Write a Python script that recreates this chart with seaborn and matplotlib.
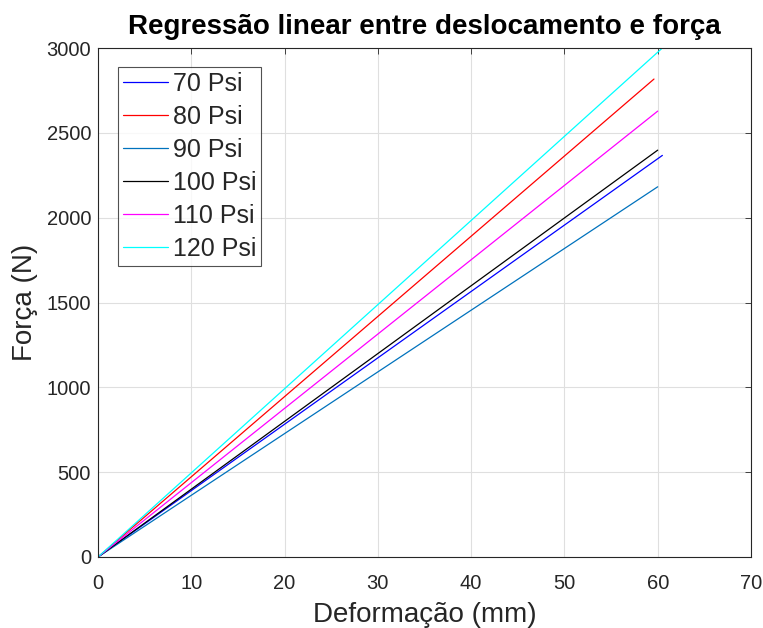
import matplotlib
matplotlib.use("Agg")
import matplotlib.pyplot as plt
import seaborn as sns
import pandas as pd

labels = ["70 Psi", "80 Psi", "90 Psi", "100 Psi", "110 Psi", "120 Psi"]
x_end = [60.5, 59.6, 60.0, 60.0, 60.0, 60.4]
y_end = [2367, 2817, 2182, 2398, 2628, 2995]
colors = ["#0000ff", "#ff0000", "#0072bd", "#000000", "#ff00ff", "#00ffff"]

rows = []
for lab, xe, ye in zip(labels, x_end, y_end):
    rows.append({"serie": lab, "x": 0.0, "y": 0.0})
    rows.append({"serie": lab, "x": xe, "y": ye})
df = pd.DataFrame(rows)

sns.set_style("white")
plt.rcParams["font.family"] = ["Liberation Sans", "DejaVu Sans"]

fig = plt.figure(figsize=(7.63, 6.28), dpi=100)
ax = fig.add_axes([98/763, 1 - 557/628, (751-98)/763, (557-48)/628])

sns.lineplot(data=df, x="x", y="y", hue="serie", palette=colors,
             hue_order=labels, ax=ax, linewidth=0.9, sort=False)

ax.set_xlim(0, 70)
ax.set_ylim(0, 3000)
ax.set_xticks(range(0, 71, 10))
ax.set_yticks(range(0, 3001, 500))
ax.grid(True, color="#dfdfdf", linewidth=0.8)
ax.set_axisbelow(True)
ax.tick_params(direction="in", length=4, labelsize=14.5, colors="#262626", top=True, right=True, width=0.6)
ax.tick_params(axis="x", pad=12)
ax.tick_params(axis="y", pad=5)
for s in ax.spines.values():
    s.set_color("#262626")
    s.set_linewidth(0.8)
ax.set_xlabel("Deformação (mm)", fontsize=20, color="#262626", labelpad=7)
ax.set_ylabel("Força (N)", fontsize=20, color="#262626", labelpad=6)
ax.set_title("Regressão linear entre deslocamento e força", fontsize=20, fontweight="bold", pad=10, color="black")

leg = ax.legend(loc="upper left", bbox_to_anchor=(0.0306, 0.963), fontsize=18,
                frameon=True, fancybox=False, edgecolor="#262626",
                handlelength=1.8, handletextpad=0.2, labelspacing=0.36, borderpad=0.2,
                borderaxespad=0)
leg.get_frame().set_linewidth(0.8)

fig.savefig("out.png", dpi=100)
